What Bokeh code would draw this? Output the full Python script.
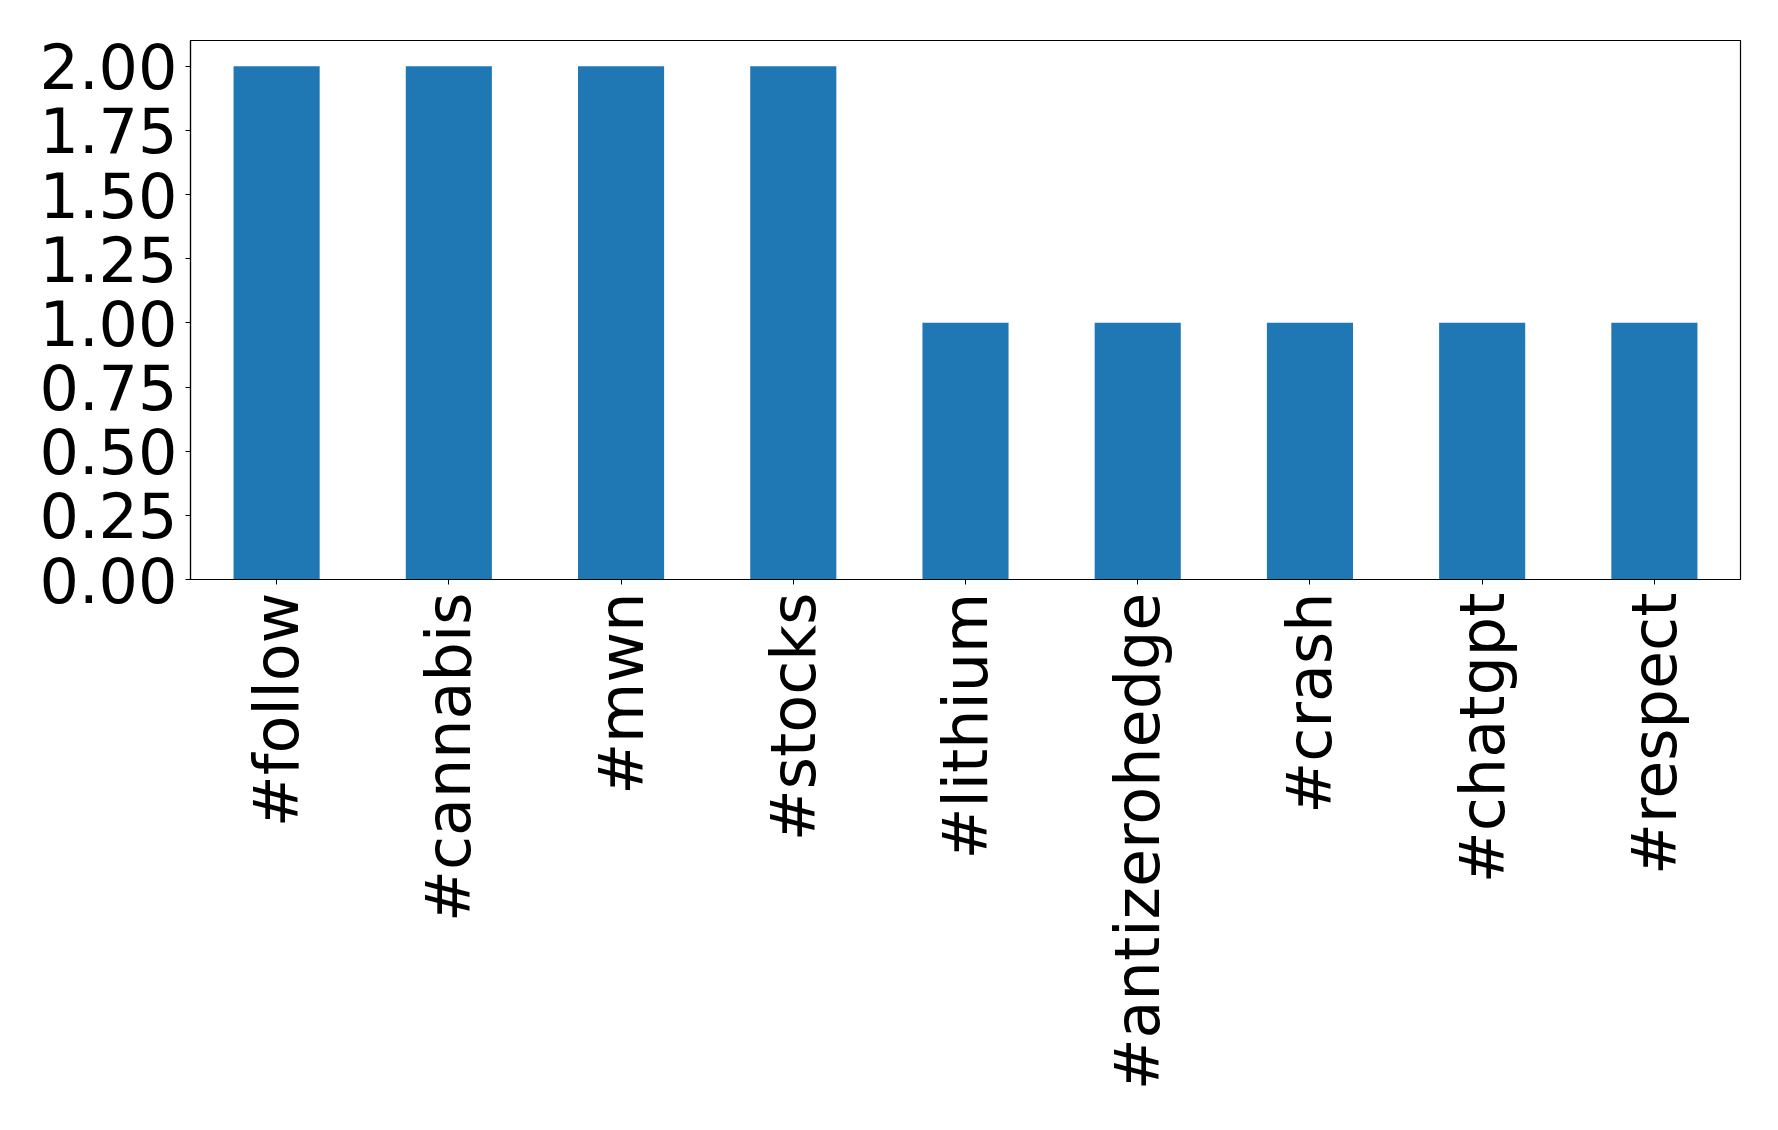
from bokeh.plotting import figure
from bokeh.models import FixedTicker, NumeralTickFormatter, Range1d
from bokeh.embed import file_html
from bokeh.resources import INLINE
import math

categories = ["#follow", "#cannabis", "#mwn", "#stocks", "#lithium",
              "#antizerohedge", "#crash", "#chatgpt", "#respect"]
counts = [2, 2, 2, 2, 1, 1, 1, 1, 1]
y_ticks = [0, 0.25, 0.5, 0.75, 1.0, 1.25, 1.5, 1.75, 2.0]

p = figure(x_range=categories, y_range=Range1d(0, 2.1),
           frame_width=1550, frame_height=539,
           min_border_left=190, min_border_top=40, min_border_right=20,
           min_border_bottom=20,
           output_backend="svg", toolbar_location=None)

p.vbar(x=categories, top=counts, width=0.5, color="#1f77b4", line_color=None)
p.x_range.range_padding = 0.0

p.xgrid.visible = False
p.ygrid.visible = False
p.outline_line_color = "black"
p.outline_line_width = 1.2

p.yaxis.ticker = FixedTicker(ticks=y_ticks)
p.yaxis.formatter = NumeralTickFormatter(format="0.00")

for ax in (p.xaxis, p.yaxis):
    ax.axis_line_color = "black"
    ax.axis_line_width = 1.2
    ax.major_tick_line_color = "black"
    ax.major_tick_out = 5
    ax.major_tick_in = 0
    ax.minor_tick_line_color = None
    ax.major_label_text_font = "DejaVu Sans"
    ax.major_label_text_font_size = "62px"
    ax.major_label_text_color = "black"
    ax.major_label_standoff = 8

p.xaxis.major_label_orientation = math.pi / 2
p.xaxis.group_text_font_size = "0px"

open("out.html", "w").write(file_html(p, INLINE))
